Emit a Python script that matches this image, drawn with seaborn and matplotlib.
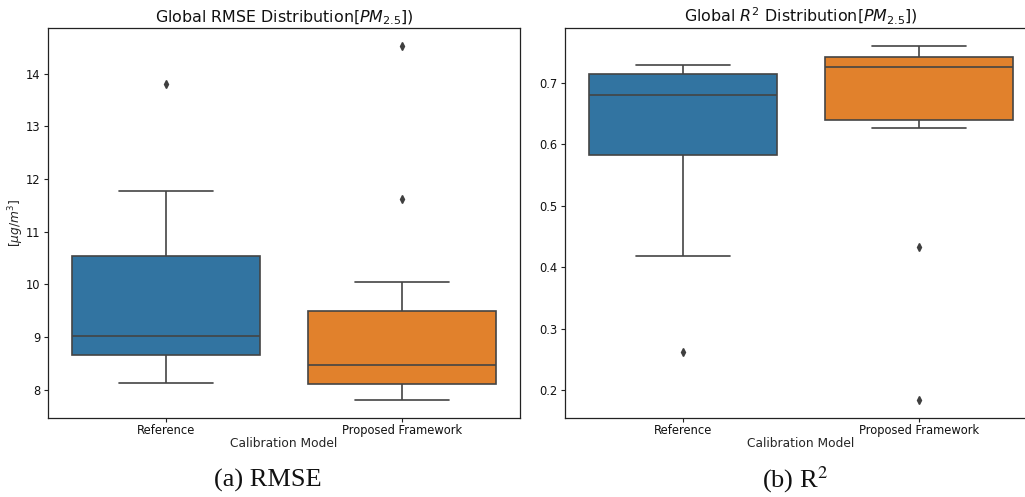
import numpy as np
import pandas as pd
import matplotlib
matplotlib.use("Agg")
import matplotlib.pyplot as plt
import seaborn as sns

# Calibration models compared
models = ["Reference", "Proposed Framework"]

# Per-site global RMSE [ug/m^3] for each calibration model
rmse_reference = [8.12, 8.35, 8.50, 8.65, 8.80, 8.92, 9.02, 9.40, 10.00, 10.53, 11.00, 11.78, 13.81]
rmse_proposed = [7.80, 7.90, 8.00, 8.10, 8.25, 8.35, 8.47, 8.90, 9.20, 9.50, 10.04, 11.62, 14.53]

# Per-site global R^2 for each calibration model
r2_reference = [0.262, 0.418, 0.500, 0.582, 0.620, 0.660, 0.680, 0.690, 0.700, 0.714, 0.720, 0.725, 0.729]
r2_proposed = [0.184, 0.433, 0.627, 0.640, 0.680, 0.700, 0.725, 0.730, 0.735, 0.741, 0.750, 0.755, 0.760]


def long_frame(ref, prop, col):
    return pd.DataFrame({
        "Calibration Model": [models[0]] * len(ref) + [models[1]] * len(prop),
        col: list(ref) + list(prop),
    })


df_rmse = long_frame(rmse_reference, rmse_proposed, "RMSE")
df_r2 = long_frame(r2_reference, r2_proposed, "R2")

sns.set_style("white")
plt.rcParams["font.family"] = ["DejaVu Sans"]
plt.rcParams["text.color"] = "#111111"

fig = plt.figure(figsize=(10.25, 4.97), dpi=100)
ax1 = fig.add_axes([48 / 1025, 1 - 418 / 497, 472 / 1025, 390 / 497])
ax2 = fig.add_axes([565 / 1025, 1 - 418 / 497, 472 / 1025, 390 / 497])

box_kw = dict(
    palette=["#1f77b4", "#ff7f0e"],
    saturation=0.75,
    width=0.8,
    linewidth=1.2,
    linecolor="#444444",
    legend=False,
    flierprops=dict(marker="d", markersize=4, markerfacecolor="#3f3f3f",
                    markeredgecolor="#3f3f3f"),
)

sns.boxplot(data=df_rmse, x="Calibration Model", y="RMSE", hue="Calibration Model",
            ax=ax1, **box_kw)
sns.boxplot(data=df_r2, x="Calibration Model", y="R2", hue="Calibration Model",
            ax=ax2, **box_kw)

ax1.set_title(r"Global RMSE Distribution[$PM_{2.5}$])", fontsize=11.4, pad=4)
ax2.set_title(r"Global $R^2$ Distribution[$PM_{2.5}$])", fontsize=11.4, pad=4)
ax1.set_ylabel(r"[$\mu g/m^3$]", fontsize=8.8, labelpad=0)
ax2.set_ylabel("")
for ax in (ax1, ax2):
    ax.set_xlabel("Calibration Model", fontsize=8.8, labelpad=0)
    ax.tick_params(axis="both", labelsize=8.3, length=3, width=0.8, left=True, bottom=True,
                   labelcolor="#111111", color="#222222", pad=2.5)
    ax.tick_params(axis="x", pad=1.5)
    for s in ax.spines.values():
        s.set_color("#222222")
        s.set_linewidth(0.9)

ax2.set_yticks([0.2, 0.3, 0.4, 0.5, 0.6, 0.7])

fig.text(268 / 1025, 1 - 480 / 497, "(a) RMSE", ha="center", va="center",
         family="Liberation Serif", fontsize=19)
fig.text(795 / 1025, 1 - 480 / 497, r"(b) R$^2$", ha="center", va="center",
         family="Liberation Serif", fontsize=19, math_fontfamily="stix")

fig.savefig("out.png", dpi=100)
